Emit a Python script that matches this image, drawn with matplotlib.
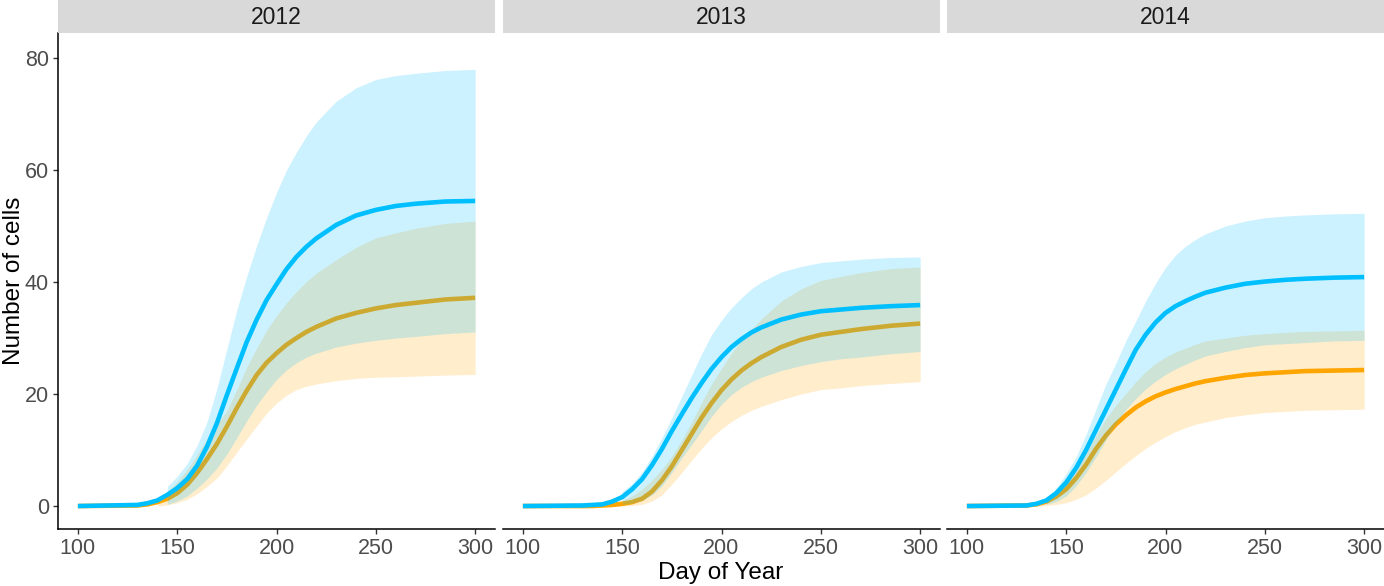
import numpy as np
import matplotlib
matplotlib.use('Agg')
import matplotlib.pyplot as plt

plt.rcParams['font.family'] = ['Liberation Sans', 'DejaVu Sans']

nan = np.nan

years = ['2012', '2013', '2014']
days = [100, 130, 135, 140, 145, 150, 155, 160, 165, 170, 175, 180, 185, 190, 195,
        200, 205, 210, 215, 220, 230, 240, 250, 260, 270, 285, 300]

# 2012
blue_mid_2012 = [0, 0.2, 0.5, 1.0, 2.0, 3.2, 4.8, 7.2, 10.6, 14.8, 19.8, 24.6, 29.3, 33.3, 36.8,
                 39.6, 42.3, 44.5, 46.3, 47.8, 50.2, 51.9, 52.9, 53.6, 54.0, 54.4, 54.5]
blue_hi_2012 = [nan, nan, nan, nan, 3.5, 5.3, 7.6, 10.8, 15.0, 21.0, 28.0, 35.0, 41.0, 46.5, 51.5,
                56.0, 60.0, 63.2, 66.1, 68.6, 72.3, 74.7, 76.2, 76.9, 77.3, 77.8, 78.0]
blue_lo_2012 = [nan, nan, nan, nan, 0.3, 0.9, 1.8, 3.2, 4.8, 6.8, 9.3, 12.2, 15.2, 18.0, 20.4,
                22.6, 24.3, 25.6, 26.6, 27.3, 28.4, 29.1, 29.6, 30.0, 30.3, 30.8, 31.1]
orange_mid_2012 = [0, 0.1, 0.3, 0.7, 1.3, 2.3, 3.8, 5.9, 8.4, 11.1, 14.2, 17.5, 20.6, 23.4, 25.6,
                   27.3, 28.8, 30.0, 31.1, 32.0, 33.5, 34.5, 35.3, 35.9, 36.3, 36.9, 37.2]
orange_hi_2012 = [nan, nan, nan, 1.2, 2.6, 4.3, 6.5, 9.1, 12.0, 14.6, 17.0, 20.8, 24.8, 28.2, 31.4,
                  34.0, 36.3, 38.3, 40.1, 41.6, 44.0, 46.2, 47.9, 48.8, 49.6, 50.5, 50.9]
orange_lo_2012 = [nan, nan, nan, 0.0, 0.2, 0.6, 1.2, 2.2, 3.5, 5.0, 7.2, 9.6, 12.0, 14.3, 16.6,
                  18.4, 19.8, 20.8, 21.4, 21.8, 22.4, 22.8, 23.0, 23.1, 23.2, 23.4, 23.5]

# 2013
blue_mid_2013 = [0, 0.1, 0.2, 0.3, 0.8, 1.6, 3.0, 4.8, 7.3, 10.2, 13.4, 16.4, 19.3, 22.0, 24.5,
                 26.6, 28.4, 29.8, 31.0, 31.9, 33.3, 34.2, 34.8, 35.1, 35.4, 35.7, 35.9]
blue_hi_2013 = [nan, nan, nan, nan, nan, 2.6, 4.0, 6.1, 8.9, 12.2, 15.8, 19.6, 23.4, 27.2, 30.6,
                33.2, 35.4, 37.2, 38.8, 40.0, 41.8, 42.8, 43.5, 43.8, 44.1, 44.4, 44.5]
blue_lo_2013 = [nan, nan, nan, nan, nan, 0.3, 0.5, 1.0, 2.0, 3.6, 6.0, 8.6, 11.0, 13.5, 16.0,
                18.2, 19.9, 21.2, 22.2, 23.0, 24.2, 25.1, 25.8, 26.3, 26.6, 27.2, 27.6]
orange_mid_2013 = [0, 0, 0, 0.1, 0.2, 0.4, 0.7, 1.3, 2.6, 4.6, 7.1, 10.0, 12.9, 15.8, 18.4,
                   20.7, 22.6, 24.2, 25.5, 26.6, 28.4, 29.7, 30.6, 31.1, 31.6, 32.2, 32.6]
orange_hi_2013 = [nan, nan, nan, nan, 0.5, 1.0, 1.8, 3.0, 4.6, 6.6, 8.9, 11.8, 15.0, 18.5, 21.8,
                  24.6, 27.3, 29.6, 31.6, 33.4, 36.6, 38.8, 40.3, 41.0, 41.7, 42.4, 42.7]
orange_lo_2013 = [nan, nan, nan, nan, 0.0, 0.0, 0.1, 0.3, 0.9, 2.0, 3.9, 6.0, 8.2, 10.3, 12.2,
                  13.8, 15.1, 16.2, 17.1, 17.8, 19.0, 20.0, 20.8, 21.1, 21.5, 21.9, 22.2]

# 2014
blue_mid_2014 = [0, 0.1, 0.4, 1.0, 2.3, 4.2, 6.8, 10.0, 13.6, 17.2, 20.8, 24.4, 27.9, 30.6, 32.8,
                 34.5, 35.7, 36.6, 37.4, 38.1, 39.0, 39.7, 40.1, 40.4, 40.6, 40.8, 40.9]
blue_hi_2014 = [nan, nan, nan, 1.2, 3.2, 5.8, 8.8, 12.8, 17.3, 21.8, 25.5, 29.5, 33.0, 36.6, 39.8,
                42.6, 44.8, 46.4, 47.6, 48.6, 50.0, 50.9, 51.5, 51.8, 52.0, 52.2, 52.3]
blue_lo_2014 = [nan, nan, nan, 0.3, 0.8, 1.8, 3.6, 6.0, 8.8, 11.8, 14.8, 17.2, 19.2, 20.9, 22.3,
                23.5, 24.5, 25.3, 26.1, 26.8, 27.6, 28.3, 28.8, 29.0, 29.2, 29.5, 29.6]
orange_mid_2014 = [0, 0.1, 0.3, 0.8, 1.7, 3.0, 5.0, 7.4, 10.2, 12.6, 14.6, 16.2, 17.6, 18.7, 19.6,
                   20.3, 20.9, 21.4, 21.9, 22.3, 22.9, 23.4, 23.7, 23.9, 24.1, 24.2, 24.3]
orange_hi_2014 = [nan, 0.1, 0.5, 1.2, 2.6, 4.3, 6.6, 9.6, 12.6, 15.6, 18.0, 20.1, 22.2, 24.0, 25.5,
                  26.6, 27.5, 28.2, 28.9, 29.5, 30.0, 30.5, 30.8, 31.0, 31.2, 31.3, 31.4]
orange_lo_2014 = [nan, 0.0, 0.0, 0.1, 0.3, 0.6, 1.2, 2.0, 3.2, 4.6, 6.1, 7.6, 9.0, 10.3, 11.4,
                  12.4, 13.3, 14.0, 14.6, 15.0, 15.8, 16.3, 16.7, 16.9, 17.1, 17.2, 17.3]

blue_mid = [blue_mid_2012, blue_mid_2013, blue_mid_2014]
blue_hi = [blue_hi_2012, blue_hi_2013, blue_hi_2014]
blue_lo = [blue_lo_2012, blue_lo_2013, blue_lo_2014]
orange_mid = [orange_mid_2012, orange_mid_2013, orange_mid_2014]
orange_hi = [orange_hi_2012, orange_hi_2013, orange_hi_2014]
orange_lo = [orange_lo_2012, orange_lo_2013, orange_lo_2014]

x_ticks = [100, 150, 200, 250, 300]
y_ticks = [0, 20, 40, 60, 80]

BLUE = '#00BFFF'
ORANGE = '#FFA500'

W, H = 1384, 586
fig = plt.figure(figsize=(W / 100, H / 100), dpi=100)

panel_px = [(58, 495), (503, 940), (947, 1384)]
top_px, bot_px = 33, 529

for i, (x0, x1) in enumerate(panel_px):
    ax = fig.add_axes([x0 / W, (H - bot_px) / H, (x1 - x0) / W, (bot_px - top_px) / H])
    d = np.array(days, dtype=float)

    # draw order: orange ribbon, orange line, blue ribbon, blue line
    ax.fill_between(d, orange_lo[i], orange_hi[i], color=ORANGE, alpha=0.2, lw=0, zorder=1)
    ax.plot(d, orange_mid[i], color=ORANGE, lw=3.3, solid_capstyle='butt',
            solid_joinstyle='round', zorder=2)
    ax.fill_between(d, blue_lo[i], blue_hi[i], color=BLUE, alpha=0.2, lw=0, zorder=3)
    ax.plot(d, blue_mid[i], color=BLUE, lw=3.3, solid_capstyle='butt',
            solid_joinstyle='round', zorder=4)

    ax.set_xlim(90, 310)
    ax.set_ylim(-4.1, 84.5)
    ax.set_xticks(x_ticks)
    ax.set_yticks(y_ticks)
    for s in ['top', 'right']:
        ax.spines[s].set_visible(False)
    ax.spines['bottom'].set_linewidth(1.1)
    ax.spines['left'].set_linewidth(1.1)
    ax.tick_params(axis='both', length=3.5, width=1.0, color='#333333',
                   labelcolor='#4D4D4D', labelsize=15.5, pad=3)
    if i > 0:
        ax.spines['left'].set_visible(False)
        ax.tick_params(axis='y', left=False, labelleft=False)

    # facet strip
    sax = fig.add_axes([x0 / W, (H - top_px) / H, (x1 - x0) / W, top_px / H])
    sax.set_facecolor('#D9D9D9')
    sax.set_xticks([])
    sax.set_yticks([])
    for s in sax.spines.values():
        s.set_visible(False)
    sax.text(0.5, 0.47, years[i], ha='center', va='center', fontsize=16.5,
             color='#1A1A1A', transform=sax.transAxes)

fig.text(721 / W, 1 - 573 / H, 'Day of Year', ha='center', va='center', fontsize=17.5)
fig.text(14 / W, 1 - 281 / H, 'Number of cells', ha='center', va='center',
         rotation=90, fontsize=17.5)

fig.savefig('out.png', dpi=100)
